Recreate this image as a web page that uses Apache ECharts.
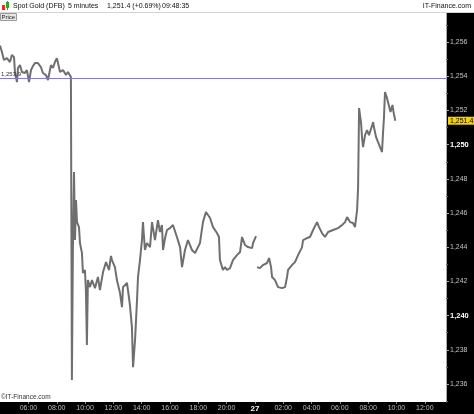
<!DOCTYPE html>
<html>
<head>
<meta charset="utf-8">
<title>Spot Gold (DFB)</title>
<script src="https://cdn.jsdelivr.net/npm/echarts@6/dist/echarts.min.js"></script>
<style>
    html, body { margin: 0; padding: 0; background: #fff; }
    #chart { width: 474px; height: 414px; }
</style>
</head>
<body>
<div id="chart"></div>
<script>
// hours after 06:00 on the 26th (the overnight pause is squeezed out of the axis)
const times = [
    -2.01, -1.87, -1.73, -1.52, -1.31, -1.17, -1.02, -0.95, -0.81, -0.74,
    -0.60, -0.46, -0.25, -0.11, 0.04, 0.18, 0.32, 0.46, 0.67, 0.88,
    1.02, 1.24, 1.38, 1.59, 1.73, 1.87, 2.01, 2.23, 2.44, 2.65,
    2.79, 3.00,
    3.07, 3.14, 3.22, 3.29, 3.36, 3.43, 3.57, 3.64, 3.78, 3.85,
    3.99, 4.06, 4.13, 4.20, 4.35, 4.49, 4.70, 4.91, 5.05, 5.27,
    5.48, 5.69, 5.83, 5.90, 6.11, 6.25, 6.47, 6.61, 6.68, 6.96,
    7.03, 7.17, 7.31, 7.39, 7.53, 7.67, 7.74, 7.88, 8.02, 8.09,
    8.23, 8.37, 8.59, 8.73, 8.94, 9.15, 9.29, 9.43, 9.51, 9.65,
    9.79, 10.00, 10.21, 10.49, 10.71, 10.85, 11.06, 11.27, 11.55, 11.77,
    12.12, 12.33, 12.54, 12.83, 13.04, 13.32, 13.46, 13.53, 13.67, 13.74,
    13.89, 14.03, 14.24, 14.45, 14.73, 14.95, 15.09, 15.30, 15.51, 15.80,
    15.87, 16.08,
    16.11,
    16.15, 16.36, 16.57, 16.86, 17.00, 17.14, 17.21, 17.42, 17.63, 17.92,
    18.13, 18.27, 18.34, 18.62, 18.83, 19.05, 19.33, 19.40, 19.68, 19.89,
    20.11, 20.39, 20.53, 20.74, 20.95, 21.17, 21.52, 21.87, 22.16, 22.37,
    22.51, 22.72, 22.93, 23.07, 23.22, 23.29, 23.36, 23.50, 23.57, 23.64,
    23.78, 23.92, 24.06, 24.29, 24.35, 24.42, 24.56, 24.70, 24.84, 24.98,
    25.05, 25.12, 25.19, 25.33, 25.58, 25.72, 25.79, 25.92
];
const prices = [
    1255.8, 1255.4, 1254.95, 1255.06, 1254.83, 1255.24, 1255.12, 1254.19, 1253.66, 1254.48,
    1254.65, 1254.25, 1254.19, 1254.36, 1253.66, 1254.36, 1254.6, 1254.77, 1254.77, 1254.54,
    1254.19, 1254.07, 1253.78, 1254.65, 1254.48, 1254.83, 1255.06, 1254.25, 1254.36, 1254.07,
    1254.25, 1253.95,
    1236.23, 1243.84, 1248.4, 1244.42, 1246.76, 1245.47, 1245.18, 1244.25, 1243.66, 1242.49,
    1242.67, 1241.5, 1238.28, 1242.08, 1241.67, 1242.08, 1241.61, 1242.26, 1241.5, 1242.55,
    1243.13, 1242.67, 1243.49, 1243.25, 1242.84, 1242.08, 1241.32, 1240.5, 1241.67, 1241.91,
    1241.5, 1240.62, 1239.33, 1236.99, 1238.57, 1240.91, 1242.26, 1243.25, 1244.42, 1245.47,
    1243.84, 1244.25, 1244.01, 1245.47, 1244.42, 1245.59, 1244.89, 1245.3, 1243.84, 1244.54,
    1245.01, 1245.12, 1245.3, 1244.6, 1244.01, 1242.84, 1243.84, 1244.42, 1243.84, 1243.66,
    1244.25, 1245.47, 1246.06, 1245.71, 1245.18, 1244.83, 1244.6, 1243.25, 1243.25, 1242.67,
    1242.84, 1242.67, 1242.78, 1243.25, 1243.54, 1243.72, 1244.6, 1244.13, 1244.01, 1243.95,
    1244.25, 1244.65,
    null,
    1242.84, 1242.78, 1242.96, 1243.08, 1243.37, 1242.84, 1242.26, 1242.08, 1241.67, 1241.61,
    1241.67, 1242.26, 1242.67, 1242.96, 1243.13, 1243.54, 1244.01, 1244.42, 1244.54, 1244.6,
    1245.01, 1245.47, 1245.18, 1244.83, 1244.6, 1244.89, 1245.01, 1245.12, 1245.3, 1245.47,
    1245.77, 1245.47, 1245.42, 1245.18, 1246.18, 1247.52, 1252.14, 1251.26, 1250.39, 1249.86,
    1250.56, 1250.85, 1250.56, 1251.15, 1251.32, 1250.97, 1250.44, 1250.15, 1249.86, 1249.57,
    1250.68, 1251.61, 1253.08, 1252.73, 1251.91, 1252.32, 1251.92, 1251.4
];
const timeTicks = [0, 2, 4, 6, 8, 10, 12, 14, 16, 18, 20, 22, 24, 26, 28];
const timeLabels = ['06:00', '08:00', '10:00', '12:00', '14:00', '16:00', '18:00', '20:00',
    '27', '02:00', '04:00', '06:00', '08:00', '10:00', '12:00'];
const priceTicks = [1236, 1238, 1240, 1242, 1244, 1246, 1248, 1250, 1252, 1254, 1256];
const minorPriceTicks = [1235, 1237, 1239, 1241, 1243, 1245, 1247, 1249, 1251, 1253, 1255, 1257];
const lastPrice = 1251.4;
const refLevel = 1253.9;

const fmt = (v, d) => v.toLocaleString('en-US', { minimumFractionDigits: d, maximumFractionDigits: d });
const font = 'Liberation Sans, Arial, sans-serif';

let points = times.map((t, i) => [t, prices[i] == null ? '-' : prices[i]]);

let mychart = echarts.init(document.getElementById('chart'));
mychart.setOption({
    animation: false,
    backgroundColor: '#000',
    textStyle: { fontFamily: font },
    grid: {
        left: 0, right: 28, top: 13, bottom: 12,
        show: true,
        backgroundColor: '#fff',
        borderWidth: 0
    },
    xAxis: {
        type: 'value',
        min: -2.01,
        max: 29.5,
        axisLine: { show: false, onZero: false },
        splitLine: { show: false },
        axisTick: { customValues: timeTicks, length: 2, lineStyle: { color: '#888' } },
        axisLabel: {
            customValues: timeTicks,
            color: '#bdbdbd',
            fontSize: 7,
            margin: 3,
            formatter: function (v) {
                let s = timeLabels[timeTicks.indexOf(v)];
                return s === '27' ? '{b|27}' : s;
            },
            rich: { b: { color: '#fff', fontWeight: 'bold', fontSize: 8 } }
        }
    },
    yAxis: [
        {
            type: 'value',
            position: 'right',
            min: 1234.95,
            max: 1257.7,
            axisLine: { show: true, onZero: false, lineStyle: { color: '#aaa' } },
            splitLine: { show: false },
            axisTick: { customValues: priceTicks, length: 3, lineStyle: { color: '#aaa' } },
            axisLabel: {
                customValues: priceTicks,
                color: '#c4c4c4',
                fontSize: 7,
                margin: 4,
                formatter: function (v) {
                    let s = fmt(v, 0);
                    return (v === 1250 || v === 1240) ? '{b|' + s + '}' : s;
                },
                rich: { b: { color: '#fff', fontWeight: 'bold', fontSize: 7.5 } }
            }
        },
        {
            // minor ticks only
            type: 'value',
            position: 'right',
            min: 1234.95,
            max: 1257.7,
            axisLine: { show: false, onZero: false },
            splitLine: { show: false },
            axisTick: { customValues: minorPriceTicks, length: 2, lineStyle: { color: '#666' } },
            axisLabel: { show: false }
        }
    ],
    series: [
        {
            type: 'line',
            data: points,
            showSymbol: false,
            connectNulls: false,
            lineStyle: { color: '#6f6f6f', width: 2 },
            z: 3,
            markLine: {
                silent: true,
                symbol: 'none',
                animation: false,
                data: [
                    {
                        yAxis: refLevel,
                        lineStyle: { color: '#7c7cd6', width: 1.2, type: 'solid' },
                        label: {
                            position: 'insideStartTop',
                            formatter: fmt(refLevel, 1),
                            fontSize: 6,
                            color: '#333',
                            distance: [1, 1]
                        }
                    },
                    {
                        yAxis: lastPrice,
                        lineStyle: { color: 'rgba(0,0,0,0)', width: 0 },
                        label: {
                            position: 'end',
                            formatter: fmt(lastPrice, 1),
                            fontSize: 7,
                            color: '#000',
                            backgroundColor: '#f3d200',
                            padding: [1, 2, 0, 2],
                            distance: 2
                        }
                    }
                ]
            }
        }
    ],
    graphic: [
        { type: 'rect', z: 100, shape: { x: 0, y: 0, width: 474, height: 12 }, style: { fill: '#fff' } },
        { type: 'line', z: 100, shape: { x1: 0, y1: 12.5, x2: 474, y2: 12.5 }, style: { stroke: '#d4d4d4', lineWidth: 1 } },
        // little candle icon
        { type: 'rect', z: 101, shape: { x: 2, y: 5, width: 3, height: 5 }, style: { fill: '#e0301e' } },
        { type: 'rect', z: 101, shape: { x: 6, y: 2, width: 3, height: 6 }, style: { fill: '#2fa52f' } },
        { type: 'line', z: 101, shape: { x1: 7.5, y1: 1, x2: 7.5, y2: 10 }, style: { stroke: '#2fa52f', lineWidth: 1 } },
        { type: 'text', z: 101, x: 13, y: 6.5, style: { text: 'Spot Gold (DFB)', font: '7px ' + font, fill: '#111', verticalAlign: 'middle' } },
        { type: 'text', z: 101, x: 68, y: 6.5, style: { text: '5 minutes', font: '7px ' + font, fill: '#111', verticalAlign: 'middle' } },
        { type: 'text', z: 101, x: 107, y: 6.5, style: { text: '1,251.4 (+0.69%)', font: '7px ' + font, fill: '#111', verticalAlign: 'middle' } },
        { type: 'text', z: 101, x: 162, y: 6.5, style: { text: '09:48:35', font: '7px ' + font, fill: '#111', verticalAlign: 'middle' } },
        { type: 'text', z: 101, x: 471, y: 6.5, style: { text: 'IT-Finance.com', font: '7px ' + font, fill: '#111', align: 'right', verticalAlign: 'middle' } },
        { type: 'rect', z: 101, shape: { x: 0.5, y: 13.5, width: 16, height: 7 }, style: { fill: '#e6e6e6', stroke: '#9a9a9a', lineWidth: 1 } },
        { type: 'text', z: 102, x: 1.5, y: 17.2, style: { text: 'Price', font: '6px ' + font, fill: '#222', verticalAlign: 'middle' } },
        { type: 'text', z: 101, x: 1, y: 397.5, style: { text: '©IT-Finance.com', font: '6.5px ' + font, fill: '#333', verticalAlign: 'middle' } }
    ]
});
</script>
</body>
</html>
